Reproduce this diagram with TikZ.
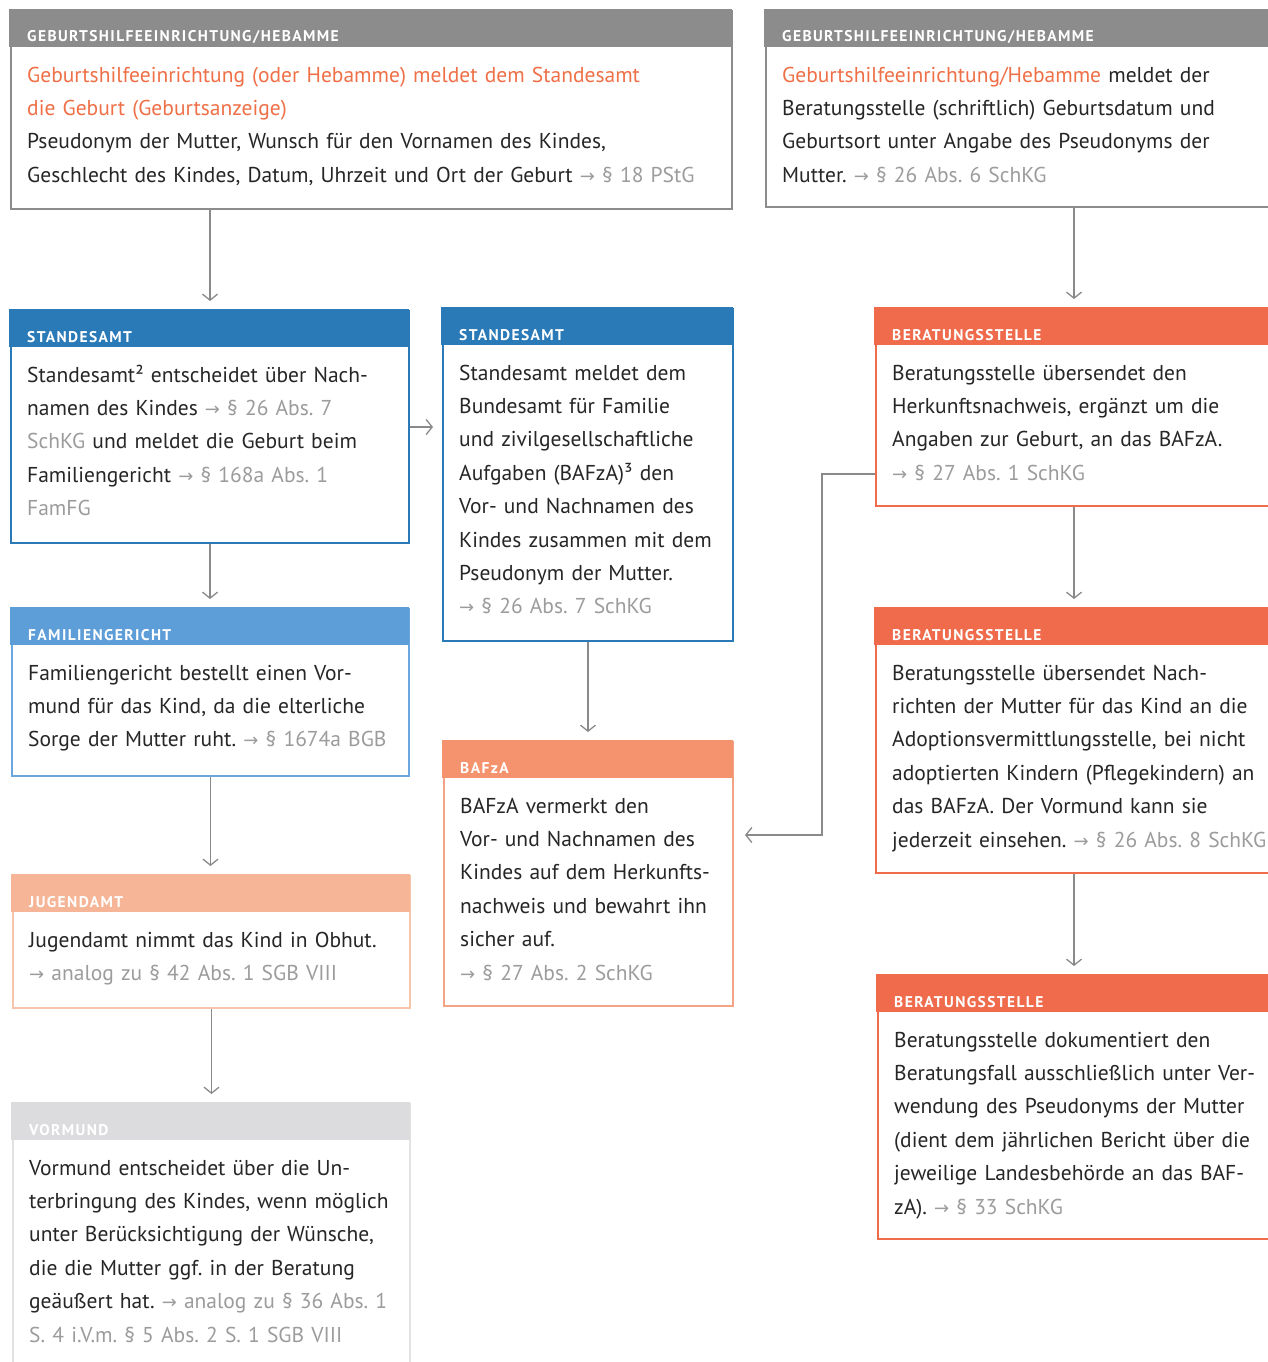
\documentclass[tikz,border=0pt]{standalone}
\usepackage{fontspec}
\setmainfont{PT Sans}
\newfontfamily\hdfont[LetterSpace=9]{PT Sans}
\newfontfamily\symfont{DejaVu Sans}
\usetikzlibrary{arrows.meta,calc}
\frenchspacing
\definecolor{gry}{HTML}{8C8C8C}
\definecolor{blu}{HTML}{2A7AB8}
\definecolor{lblu}{HTML}{5D9DD8}
\definecolor{lblub}{HTML}{6BA7DD}
\definecolor{jug}{HTML}{F5B596}
\definecolor{jugb}{HTML}{F6C4A9}
\definecolor{vor}{HTML}{DCDCDF}
\definecolor{vorb}{HTML}{E2E2E2}
\definecolor{baf}{HTML}{F4936E}
\definecolor{bafb}{HTML}{F5A385}
\definecolor{ber}{HTML}{EF6B4C}
\definecolor{ora}{HTML}{EF7047}
\definecolor{refg}{HTML}{9C9C9C}
\definecolor{txt}{HTML}{262626}
\definecolor{arrc}{HTML}{8A8A8A}
\newcommand\ra{{\symfont\fontsize{18}{18}\selectfont →}}
\newcommand\rf[1]{{\color{refg}\ra\ #1}}
\tikzset{
  boxst/.style={anchor=north west, inner sep=0pt, line width=2pt, fill=white},
  hdst/.style={anchor=base west, inner sep=0pt, text=white, font=\hdfont\bfseries\fontsize{15.5}{15.5}\selectfont},
  bodyst/.style={anchor=north west, inner sep=0pt, align=left, text width=700pt, text=txt, font=\frenchspacing\fontsize{21.5}{33.4}\selectfont},
  arr/.style={draw=arrc, line width=1.3pt, -{Straight Barb[length=6pt,width=15pt,line width=1.3pt]}, shorten >=9pt},
}
\newcommand\flowbox[8]{%
  \node[boxst, draw=#7, minimum width=#4pt, minimum height=#5pt] (#1) at (#2,#3) {};
  \fill[#6] ($(#1.north west)+(-1,-1)$) rectangle ($(#1.north west)+(#4+1,37)$);
  \node[hdst] (#1-h) at ($(#1.north west)+(17,32)$) {#8};
}
\newcommand\bodytext[2]{%
  \node[bodyst] (#1-t) at ($(#1.north west)+(17,48.6)$) {\strut #2};
}
\begin{document}
\begin{tikzpicture}[x=1pt,y=-1pt]
\fill[white] (0,0) rectangle (1268,1362);
\useasboundingbox (0,0) rectangle (1268,1362);

\flowbox{A}{10}{10}{721}{198}{gry}{gry}{GEBURTSHILFEEINRICHTUNG/HEBAMME}
\bodytext{A}{{\color{ora}Geburtshilfeeinrichtung (oder Hebamme) meldet dem Standesamt\\die Geburt (Geburtsanzeige)}\\Pseudonym der Mutter, Wunsch für den Vornamen des Kindes,\\Geschlecht des Kindes, Datum, Uhrzeit und Ort der Geburt \rf{§ 18 PStG}}

\flowbox{B}{765}{10}{520}{196}{gry}{gry}{GEBURTSHILFEEINRICHTUNG/HEBAMME}
\bodytext{B}{{\color{ora}Geburtshilfeeinrichtung/Hebamme} meldet der\\Beratungsstelle (schriftlich) Geburtsdatum und\\Geburtsort unter Angabe des Pseudonyms der\\Mutter. \rf{§ 26 Abs. 6 SchKG}}

\flowbox{C}{10}{310}{398}{232}{blu}{blu}{STANDESAMT}
\bodytext{C}{Standesamt² entscheidet über Nach-\\namen des Kindes \rf{§ 26 Abs. 7}\\{\color{refg}SchKG} und meldet die Geburt beim\\Familiengericht \rf{§ 168a Abs. 1}\\{\color{refg}FamFG}}

\flowbox{D}{442}{308}{290}{332}{blu}{blu}{STANDESAMT}
\bodytext{D}{Standesamt meldet dem\\Bundesamt für Familie\\und zivilgesellschaftliche\\Aufgaben (BAFzA)³ den\\Vor- und Nachnamen des\\Kindes zusammen mit dem\\Pseudonym der Mutter.\\\rf{§ 26 Abs. 7 SchKG}}

\flowbox{E}{11}{608}{397}{167}{lblu}{lblub}{FAMILIENGERICHT}
\bodytext{E}{Familiengericht bestellt einen Vor-\\mund für das Kind, da die elterliche\\Sorge der Mutter ruht. \rf{§ 1674a BGB}}

\flowbox{F}{12}{875}{397}{132}{jug}{jugb}{JUGENDAMT}
\bodytext{F}{Jugendamt nimmt das Kind in Obhut.\\\rf{analog zu § 42 Abs. 1 SGB VIII}}

\flowbox{G}{12}{1103}{397}{300}{vor}{vorb}{VORMUND}
\bodytext{G}{Vormund entscheidet über die Un-\\terbringung des Kindes, wenn möglich\\unter Berücksichtigung der Wünsche,\\die die Mutter ggf. in der Beratung\\geäußert hat. \rf{analog zu § 36 Abs. 1}\\{\color{refg}S. 4 i.V.m. § 5 Abs. 2 S. 1 SGB VIII}}

\flowbox{H}{443}{741}{289}{264}{baf}{bafb}{BAFzA}
\bodytext{H}{BAFzA vermerkt den\\Vor- und Nachnamen des\\Kindes auf dem Herkunfts-\\nachweis und bewahrt ihn\\sicher auf.\\\rf{§ 27 Abs. 2 SchKG}}

\flowbox{I}{875}{308}{396}{197}{ber}{ber}{BERATUNGSSTELLE}
\bodytext{I}{Beratungsstelle übersendet den\\Herkunftsnachweis, ergänzt um die\\Angaben zur Geburt, an das BAFzA.\\\rf{§ 27 Abs. 1 SchKG}}

\flowbox{J}{875}{608}{396}{264}{ber}{ber}{BERATUNGSSTELLE}
\bodytext{J}{Beratungsstelle übersendet Nach-\\richten der Mutter für das Kind an die\\Adoptionsvermittlungsstelle, bei nicht\\adoptierten Kindern (Pflegekindern) an\\das BAFzA. Der Vormund kann sie\\jederzeit einsehen. \rf{§ 26 Abs. 8 SchKG}}

\flowbox{K}{877}{975}{396}{263}{ber}{ber}{BERATUNGSSTELLE}
\bodytext{K}{Beratungsstelle dokumentiert den\\Beratungsfall ausschließlich unter Ver-\\wendung des Pseudonyms der Mutter\\(dient dem jährlichen Bericht über die\\jeweilige Landesbehörde an das BAF-\\zA). \rf{§ 33 SchKG}}

% connectors
\draw[arr] (A.south -| C.north) -- (C.north);
\draw[arr] (B.south -| I.north) -- (I.north);
\draw[arr] (C.east) -- (C.east -| D.west);
\draw[arr] (C.south) -- (C.south |- E.north);
\draw[arr] (E.south) -- (E.south |- F.north);
\draw[arr] (F.south) -- (F.south |- G.north);
\draw[arr] (D.south) -- (D.south |- H.north);
\draw[arr] (I.south) -- (I.south |- J.north);
\draw[arr] (J.south) -- (J.south |- K.north);
\coordinate (ia) at ($(I.south west)+(0,-33)$);
\coordinate (bend) at (822,835);
\draw[arr, shorten >=11pt] (ia) -| (bend) -- (bend -| H.east);
\end{tikzpicture}
\end{document}
